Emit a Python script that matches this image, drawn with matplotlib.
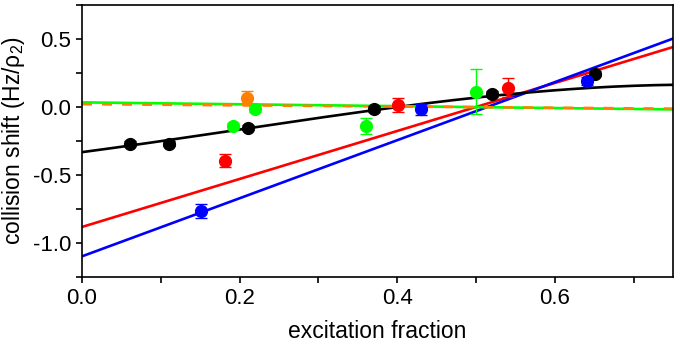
import numpy as np
import matplotlib
matplotlib.use("Agg")
import matplotlib.pyplot as plt
from matplotlib.ticker import MultipleLocator

plt.rcParams['font.family'] = ['Liberation Sans', 'DejaVu Sans']
plt.rcParams['mathtext.fontset'] = 'custom'
plt.rcParams['mathtext.rm'] = 'Liberation Sans'
plt.rcParams['mathtext.default'] = 'regular'
plt.rcParams['axes.unicode_minus'] = False

# ---- data points (x, y, err) ----
black_x = [0.061, 0.111, 0.211, 0.370, 0.520, 0.651]
black_y = [-0.269, -0.269, -0.152, -0.015, 0.097, 0.245]
black_e = [0.02, 0.02, 0.02, 0.02, 0.02, 0.02]

red_x = [0.181, 0.401, 0.541]
red_y = [-0.394, 0.015, 0.140]
red_e = [0.045, 0.05, 0.07]

blue_x = [0.151, 0.430, 0.641]
blue_y = [-0.765, -0.017, 0.192]
blue_e = [0.05, 0.04, 0.03]

green_x = [0.191, 0.220, 0.360, 0.500]
green_y = [-0.140, -0.016, -0.140, 0.113]
green_e = [0.02, 0.02, 0.06, 0.165]

orange_x = [0.210]
orange_y = [0.069]
orange_e = [0.05]

# ---- fit lines ----
fit_x = [0.0, 0.75]
red_fit = [-0.882, 0.441]
blue_fit = [-1.098, 0.503]
green_fit = [0.034, -0.018]
orange_fit = [0.021, -0.012]

black_curve_x = [0.0, 0.1, 0.2, 0.254, 0.34, 0.4, 0.5, 0.556, 0.6, 0.654, 0.7, 0.75]
black_curve_y = [-0.335, -0.248, -0.162, -0.115, -0.054, -0.008, 0.068, 0.106, 0.126, 0.147, 0.155, 0.160]

fig = plt.figure(figsize=(6.8, 3.46), dpi=100)
ax = fig.add_axes([82/680, 1-277/346, (673-82)/680, (277-5)/346])

lw = 1.9
ax.plot(fit_x, red_fit, color='#ff0000', lw=lw, zorder=2)
ax.plot(fit_x, blue_fit, color='#0000ff', lw=lw, zorder=2)
coef = np.polyfit(black_curve_x, black_curve_y, 3)
xx = np.linspace(0, 0.75, 200)
ax.plot(xx, np.polyval(coef, xx), color='black', lw=lw, zorder=2)
ax.plot(fit_x, green_fit, color='#00ff00', lw=lw, zorder=2)
ax.plot(fit_x, orange_fit, color='#ff8000', lw=lw, dashes=(3.8, 3.8), zorder=2)

ms = 8.5
for xs, ys, es, c in [(black_x, black_y, black_e, 'black'),
                      (red_x, red_y, red_e, '#ff0000'),
                      (blue_x, blue_y, blue_e, '#0000ff'),
                      (green_x, green_y, green_e, '#00ff00'),
                      (orange_x, orange_y, orange_e, '#ff8000')]:
    ax.errorbar(xs, ys, yerr=es, fmt='o', color=c, ms=ms, elinewidth=1.0,
                capsize=4, capthick=1.0, zorder=3)

ax.set_xlim(0, 0.75)
ax.set_ylim(-1.25, 0.75)
ax.xaxis.set_minor_locator(MultipleLocator(0.1))
ax.yaxis.set_minor_locator(MultipleLocator(0.25))
ax.set_xticks([0.0, 0.2, 0.4, 0.6])
ax.set_xticklabels(['0.0', '0.2', '0.4', '0.6'])
ax.set_yticks([-1.0, -0.5, 0.0, 0.5])
ax.set_yticklabels(['-1.0', '-0.5', '0.0', '0.5'])
ax.tick_params(which='major', length=4, width=1.2, labelsize=16, pad=4)
ax.tick_params(which='minor', length=4, width=1.2)
for s in ax.spines.values():
    s.set_linewidth(1.2)

ax.set_xlabel('excitation fraction', fontsize=16.5, labelpad=8)
ax.set_ylabel('collision shift (Hz/ρ$_2$)', fontsize=16.5, labelpad=4)

fig.savefig('out.png', dpi=100)
